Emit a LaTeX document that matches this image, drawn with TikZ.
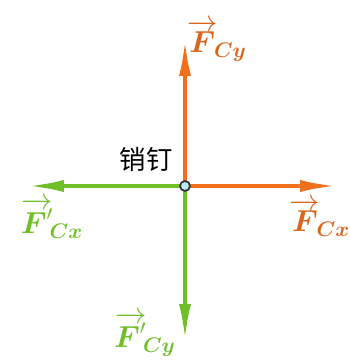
\documentclass[tikz,border=0pt]{standalone}
\usepackage{fontspec}
\usepackage{amsmath,amssymb}
\newfontfamily\cjk{Noto Sans CJK SC}
\usetikzlibrary{arrows.meta}
\definecolor{laranja}{RGB}{240,112,30}
\definecolor{verde}{RGB}{112,190,40}

\begin{document}
\begin{tikzpicture}[
    x=0.02cm, y=-0.02cm,
    forca/.style={-{Latex[length=0.8cm,width=0.24cm]}, line width=2.6pt},
    rotulo/.style={font=\LARGE, inner sep=0pt},
    pino/.style={circle, draw=black!80, fill=cyan!25, line width=1pt,
        minimum size=0.2cm, inner sep=0pt}
]
\useasboundingbox (0,0) rectangle (350,364);

% Pontos
\coordinate (c) at (185,186);
\coordinate (cima) at (185,36);
\coordinate (dir) at (340,186);
\coordinate (esq) at (24,186);
\coordinate (baixo) at (185,344);

% Forças
\draw[forca, laranja] (c) -- (cima);
\draw[forca, laranja] (c) -- (dir);
\draw[forca, verde] (c) -- (esq);
\draw[forca, verde] (c) -- (baixo);
\node[pino] (p) at (c) {};

% Rótulos
\node[rotulo, text=laranja!90!black] (fcy) at (217,41)
    {$\overrightarrow{\boldsymbol{F}}_{\!\boldsymbol{Cy}}$};
\node[rotulo, text=laranja!90!black] (fcx) at (320,218)
    {$\overrightarrow{\boldsymbol{F}}_{\!\boldsymbol{Cx}}$};
\node[rotulo, text=verde] (fcx2) at (52,218)
    {$\overrightarrow{\boldsymbol{F}'}_{\!\boldsymbol{Cx}}$};
\node[rotulo, text=verde] (fcy2) at (145,334)
    {$\overrightarrow{\boldsymbol{F}'}_{\!\boldsymbol{Cy}}$};
\node[font=\cjk\fontsize{15}{17}\selectfont] (nome) at (146,159) {销钉};

\end{tikzpicture}
\end{document}
